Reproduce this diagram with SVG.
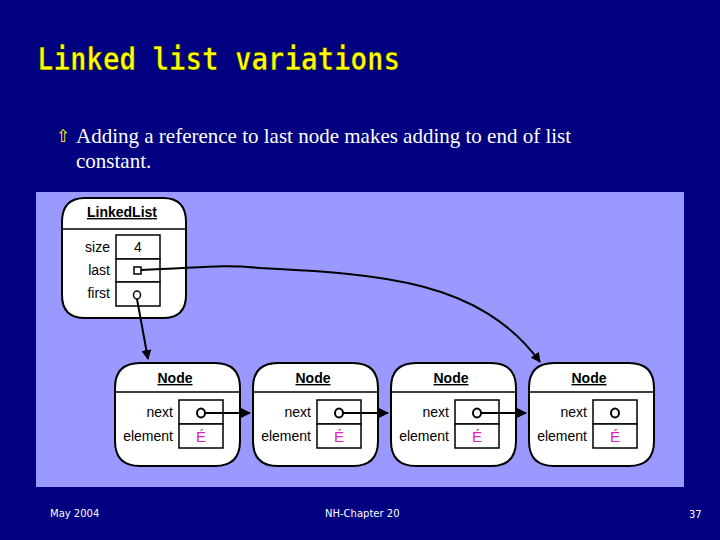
<svg xmlns="http://www.w3.org/2000/svg" width="720" height="540" viewBox="0 0 720 540">
<defs>
<style>
.box{fill:#fff;stroke:#000;stroke-width:2}
.cell{fill:#fff;stroke:#000;stroke-width:1.5}
.lbl{font-family:"Liberation Sans Narrow","Liberation Sans",Arial,sans-serif;font-size:14px;fill:#000}
.hd{font-family:"Liberation Sans",Arial,sans-serif;font-size:14px;font-weight:bold;fill:#000;text-anchor:middle;text-decoration:underline}
.el{font-family:"Liberation Sans",Arial,sans-serif;font-size:15px;fill:#e020c0;text-anchor:middle}
.ln{stroke:#000;stroke-width:2;fill:none}
.foot{font-family:"DejaVu Sans",sans-serif;font-size:10px;fill:#fff}
</style>
<marker id="ah" markerWidth="10" markerHeight="10" refX="9" refY="5" orient="auto" markerUnits="userSpaceOnUse"><path d="M0,0 L10,5 L0,10 Z" fill="#000"/></marker>
<g id="nodeT">
<path class="box" d="M25,0 H100 Q125,0 125,25 V78 Q125,103 100,103 H25 Q0,103 0,78 V25 Q0,0 25,0 Z"/>
<line x1="0" y1="29" x2="125" y2="29" stroke="#000" stroke-width="1.5"/>
<text class="hd" x="60" y="20">Node</text>
<rect class="cell" x="64" y="37" width="44" height="24"/>
<rect class="cell" x="64" y="61" width="44" height="24"/>
<text class="lbl" x="58" y="54" text-anchor="end">next</text>
<text class="lbl" x="58" y="78" text-anchor="end">element</text>
<text class="el" x="86" y="79">É</text>
<ellipse cx="86" cy="50" rx="4" ry="4.5" fill="#fff" stroke="#000" stroke-width="2"/>
</g>
</defs>
<rect width="720" height="540" fill="#000080"/>
<text x="37" y="70" font-family="DejaVu Sans Mono,monospace" font-size="32" font-weight="bold" fill="#ffff00" stroke="#000" stroke-width="0.6" textLength="363" lengthAdjust="spacingAndGlyphs">Linked list variations</text>
<text x="56" y="142" font-family="DejaVu Sans,sans-serif" font-size="17" fill="#ffff00">⇧</text>
<text font-family="Liberation Serif,serif" font-size="21" fill="#fff"><tspan x="76" y="143">Adding a reference to last node makes adding to end of list</tspan><tspan x="76" y="168">constant.</tspan></text>
<rect x="36" y="192" width="648" height="295" fill="#9999ff"/>
<g id="linkedlist">
<path class="box" d="M85,198 H163 Q186,198 186,222 V295 Q186,318 163,318 H85 Q62,318 62,295 V222 Q62,198 85,198 Z"/>
<line x1="62" y1="229" x2="186" y2="229" stroke="#000" stroke-width="1.5"/>
<text class="hd" x="122" y="217">LinkedList</text>
<rect class="cell" x="116" y="235" width="44" height="24"/>
<rect class="cell" x="116" y="259" width="44" height="23"/>
<rect class="cell" x="116" y="282" width="44" height="24"/>
<text class="lbl" x="110" y="252" text-anchor="end">size</text>
<text class="lbl" x="110" y="275" text-anchor="end">last</text>
<text class="lbl" x="110" y="298" text-anchor="end">first</text>
<text class="lbl" x="138" y="252" text-anchor="middle">4</text>
<rect x="134" y="267" width="7" height="7" fill="#fff" stroke="#000" stroke-width="1.5"/>
<ellipse cx="137" cy="295" rx="3.5" ry="4" fill="#fff" stroke="#000" stroke-width="1.5"/>
</g>
<g id="node1"><use href="#nodeT" x="115" y="363"/></g>
<g id="node2"><use href="#nodeT" x="253" y="363"/></g>
<g id="node3"><use href="#nodeT" x="391" y="363"/></g>
<g id="node4"><use href="#nodeT" x="529" y="363"/></g>
<g id="connectors">
<path class="ln" d="M141,270 C200,268 220,264 260,268 C380,274 480,280 540,362" marker-end="url(#ah)"/>
<path class="ln" d="M137,299 L148,359" marker-end="url(#ah)"/>
<path class="ln" d="M205,413 L250,413" marker-end="url(#ah)"/>
<path class="ln" d="M343,413 L388,413" marker-end="url(#ah)"/>
<path class="ln" d="M481,413 L526,413" marker-end="url(#ah)"/>
</g>
<text class="foot" x="50" y="517">May 2004</text>
<text class="foot" x="325" y="517">NH-Chapter 20</text>
<text class="foot" x="689" y="518">37</text>
</svg>
